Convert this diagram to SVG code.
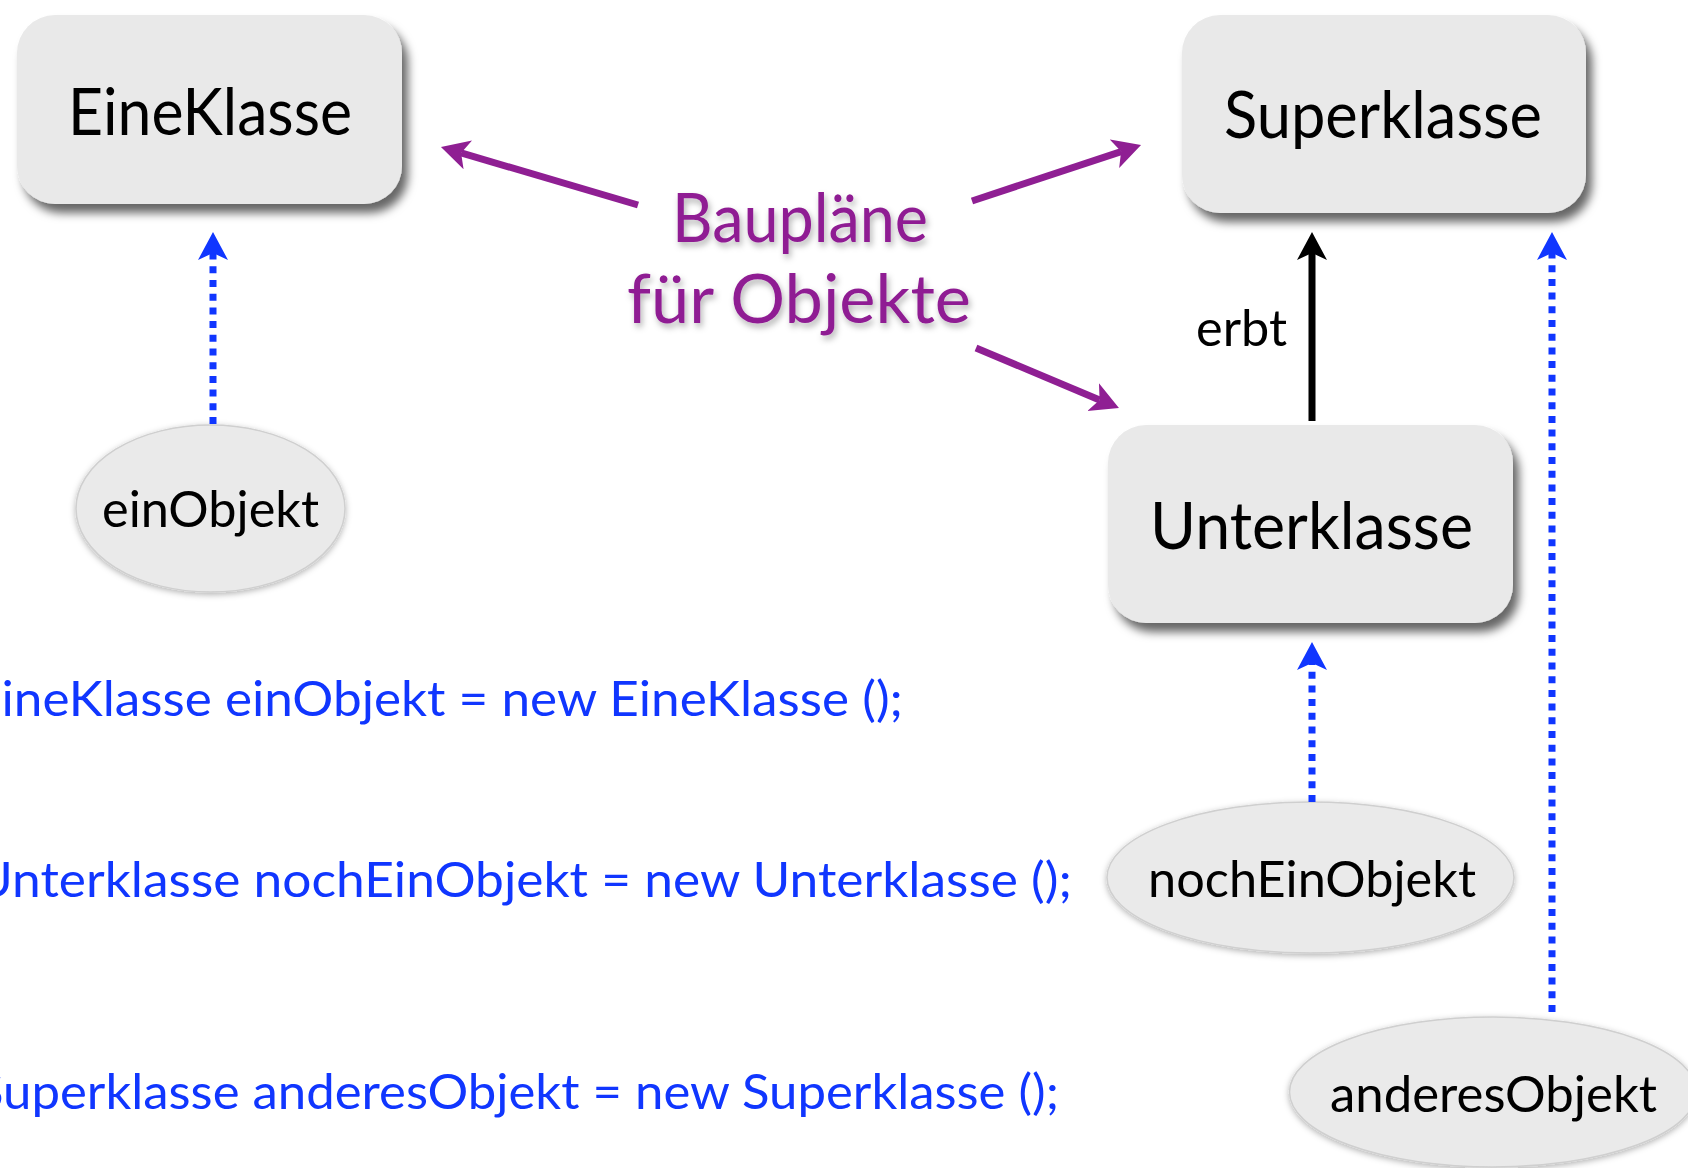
<svg xmlns="http://www.w3.org/2000/svg" width="1688" height="1168" viewBox="0 0 1688 1168">
  <defs>
    <style>
      .lbl { font-family: Lato, "Gill Sans", "Noto Sans", sans-serif; fill: #000; }
      .cls { font-size: 66px; }
      .obj { font-size: 51px; }
      .code { font-family: Lato, "Gill Sans", "Noto Sans", sans-serif; font-size: 48px; fill: #1036FF; }
      .note { font-family: Lato, "Gill Sans", "Noto Sans", sans-serif; font-size: 68px; fill: #8F1F93; }
      .box { fill: #E9E9E9; }
      .ell { fill: #EAEAEA; stroke: #CFCFCF; stroke-width: 1.5; }
      .purple { stroke: #8F1F93; stroke-width: 7; fill: none; }
      .black { stroke: #000; stroke-width: 7; fill: none; }
      .dotted { stroke: #1036FF; stroke-width: 7; fill: none; stroke-dasharray: 7 6.7; }
    </style>
    <filter id="boxShadow" x="-10%" y="-15%" width="125%" height="140%">
      <feDropShadow dx="6" dy="9" stdDeviation="5" flood-color="#000" flood-opacity="0.6"/>
    </filter>
    <filter id="ellShadow" x="-10%" y="-15%" width="120%" height="135%">
      <feDropShadow dx="0" dy="2" stdDeviation="3" flood-color="#000" flood-opacity="0.3"/>
    </filter>
    <filter id="textShadow" x="-10%" y="-20%" width="120%" height="150%">
      <feDropShadow dx="2" dy="4" stdDeviation="3" flood-color="#000" flood-opacity="0.3"/>
    </filter>
    <marker id="ahBlue" markerUnits="userSpaceOnUse" markerWidth="30" markerHeight="32" viewBox="0 -16 30 32" refX="7" refY="0" orient="auto">
      <path d="M0,-15 L28,0 L0,15 L7,0 Z" fill="#1036FF"/>
    </marker>
    <marker id="ahBlack" markerUnits="userSpaceOnUse" markerWidth="30" markerHeight="32" viewBox="0 -16 30 32" refX="7" refY="0" orient="auto">
      <path d="M0,-15 L28,0 L0,15 L7,0 Z" fill="#000"/>
    </marker>
    <marker id="ahPurple" markerUnits="userSpaceOnUse" markerWidth="30" markerHeight="32" viewBox="0 -16 30 32" refX="7" refY="0" orient="auto">
      <path d="M0,-15 L28,0 L0,15 L7,0 Z" fill="#8F1F93"/>
    </marker>
  </defs>

  <rect width="1688" height="1168" fill="#fff"/>

  <g id="EineKlasse">
    <rect class="box" x="17" y="15" width="385" height="189" rx="38" filter="url(#boxShadow)"/>
    <text class="lbl cls" x="68" y="135" textLength="284" lengthAdjust="spacingAndGlyphs">EineKlasse</text>
  </g>

  <g id="Superklasse">
    <rect class="box" x="1182" y="15" width="404" height="198" rx="38" filter="url(#boxShadow)"/>
    <text class="lbl cls" x="1224" y="138" textLength="318" lengthAdjust="spacingAndGlyphs">Superklasse</text>
  </g>

  <g id="Unterklasse">
    <rect class="box" x="1108" y="425" width="405" height="198" rx="38" filter="url(#boxShadow)"/>
    <text class="lbl cls" x="1150" y="549" textLength="323" lengthAdjust="spacingAndGlyphs">Unterklasse</text>
  </g>

  <g id="einObjekt">
    <ellipse class="ell" cx="210.5" cy="508.5" rx="134.5" ry="83.5" filter="url(#ellShadow)"/>
    <text class="lbl obj" x="102" y="527" textLength="217" lengthAdjust="spacingAndGlyphs">einObjekt</text>
  </g>

  <g id="nochEinObjekt">
    <ellipse class="ell" cx="1310.5" cy="877.5" rx="203.5" ry="75.5" filter="url(#ellShadow)"/>
    <text class="lbl obj" x="1148" y="897" textLength="328" lengthAdjust="spacingAndGlyphs">nochEinObjekt</text>
  </g>

  <g id="anderesObjekt">
    <ellipse class="ell" cx="1493" cy="1092" rx="203.5" ry="75" filter="url(#ellShadow)"/>
    <text class="lbl obj" x="1330" y="1112" textLength="327" lengthAdjust="spacingAndGlyphs">anderesObjekt</text>
  </g>

  <g id="Bauplaene" filter="url(#textShadow)">
    <text class="note" x="672" y="242" textLength="256" lengthAdjust="spacingAndGlyphs">Baupläne</text>
    <text class="note" x="627" y="323" textLength="344" lengthAdjust="spacingAndGlyphs">für Objekte</text>
  </g>

  <g id="code">
    <text class="code" x="-28" y="716" textLength="931" lengthAdjust="spacingAndGlyphs">EineKlasse einObjekt = new EineKlasse ();</text>
    <text class="code" x="-25" y="897" textLength="1097" lengthAdjust="spacingAndGlyphs">Unterklasse nochEinObjekt = new Unterklasse ();</text>
    <text class="code" x="-24" y="1109" textLength="1083" lengthAdjust="spacingAndGlyphs">Superklasse anderesObjekt = new Superklasse ();</text>
  </g>

  <g id="connectors">
    <path class="purple" d="M638,205 L461.1,152.9" marker-end="url(#ahPurple)"/>
    <path class="purple" d="M972,201 L1121.1,151.6" marker-end="url(#ahPurple)"/>
    <path class="purple" d="M976,348 L1099.6,399.9" marker-end="url(#ahPurple)"/>
    <path class="black" d="M1312,421 L1312,253" marker-end="url(#ahBlack)"/>
    <text class="lbl" x="1196" y="346" font-size="50" textLength="91" lengthAdjust="spacingAndGlyphs">erbt</text>
    <path class="dotted" d="M213,424 L213,253" marker-end="url(#ahBlue)"/>
    <path class="dotted" d="M1312,802 L1312,663" marker-end="url(#ahBlue)"/>
    <path class="dotted" d="M1552,1012 L1552,253" marker-end="url(#ahBlue)"/>
  </g>
</svg>
